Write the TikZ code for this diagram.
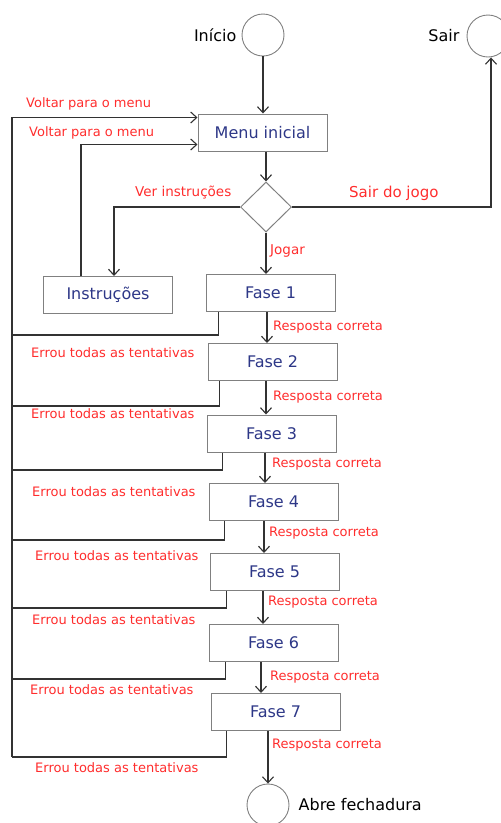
\documentclass[tikz,border=0pt]{standalone}
\usepackage{fontspec}
\setmainfont{DejaVu Sans}
\usepackage{tikz}
\usetikzlibrary{positioning,shapes.geometric,arrows.meta}

\definecolor{redtxt}{RGB}{255,45,45}
\definecolor{bluetxt}{RGB}{45,55,135}
\definecolor{edge}{RGB}{128,128,128}
\definecolor{wire}{RGB}{50,50,50}

\tikzset{
  fase/.style={rectangle, draw=edge, line width=1pt, minimum width=129pt, minimum height=37pt,
    text=bluetxt, font=\fontsize{16}{19}\selectfont},
  term/.style={circle, draw=edge, line width=0.9pt, minimum size=42pt, inner sep=0pt},
  decis/.style={diamond, draw=edge, line width=1pt, minimum width=51pt, minimum height=50pt, inner sep=0pt},
  rlab/.style={text=redtxt, inner sep=0pt, anchor=west, font=\fontsize{13}{15}\selectfont},
  blab/.style={inner sep=0pt, font=\fontsize{16}{19}\selectfont},
  wires/.style={draw=wire, line width=1.1pt}
}

\begin{document}
\begin{tikzpicture}[x=1pt, y=-1pt, >={Straight Barb[length=6pt,width=11pt]}]
  \useasboundingbox (0,0) rectangle (501,823);

  % start, exit and end
  \node [term] (ini) at (263,35) {};
  \node [blab, left=5pt of ini] (inilab) {Início};
  \node [term] (sair) at (488,36) {};
  \node [blab, left=7pt of sair] (sairlab) {Sair};
  \node [term] (fim) at (268,805) {};
  \node [blab, right=9pt of fim] (fimlab) {Abre fechadura};

  % menu
  \node [fase] (menu) at (262.5,132.5) {Menu inicial};
  \node [decis] (dia) at (266,207) {};
  \node [fase] (instr) at (108,295) {Instruções};

  % phases
  \node [fase] (f1) at (270.5,293) {Fase 1};
  \node [fase] (f2) at (272.5,362) {Fase 2};
  \node [fase] (f3) at (271.5,433.5) {Fase 3};
  \node [fase] (f4) at (273.5,502) {Fase 4};
  \node [fase] (f5) at (274.5,572) {Fase 5};
  \node [fase] (f6) at (273.5,643) {Fase 6};
  \node [fase] (f7) at (275.5,712) {Fase 7};

  % ends of the fail lines on the left
  \coordinate (e1) at (12,335);
  \coordinate (e2) at (12,406);
  \coordinate (e3) at (12,470);
  \coordinate (e4) at (12,540);
  \coordinate (e5) at (12,608);
  \coordinate (e6) at (12,679);
  \coordinate (e7) at (12,757);

  % labels
  \node [rlab] (volta1) at (26,104) {Voltar para o menu};
  \node [rlab] (volta2) at (29,133) {Voltar para o menu};
  \node [rlab, font=\fontsize{13.5}{16}\selectfont] (verlab) at (135,193) {Ver instruções};
  \node [rlab, font=\fontsize{15}{18}\selectfont] (saijogo) at (349,193) {Sair do jogo};
  \node [rlab, font=\fontsize{13.5}{16}\selectfont] (jogar) at (270,251) {Jogar};

  \node [rlab] (ok1) at (273,327) {Resposta correta};
  \node [rlab] (ok2) at (273,397) {Resposta correta};
  \node [rlab] (ok3) at (272,464) {Resposta correta};
  \node [rlab] (ok4) at (269,533) {Resposta correta};
  \node [rlab] (ok5) at (268,602) {Resposta correta};
  \node [rlab] (ok6) at (270,677) {Resposta correta};
  \node [rlab] (ok7) at (272,745) {Resposta correta};

  \node [rlab] (err1) at (31,353) {Errou todas as tentativas};
  \node [rlab] (err2) at (31,414) {Errou todas as tentativas};
  \node [rlab] (err3) at (32,492) {Errou todas as tentativas};
  \node [rlab] (err4) at (35,556) {Errou todas as tentativas};
  \node [rlab] (err5) at (32,620) {Errou todas as tentativas};
  \node [rlab] (err6) at (30,690) {Errou todas as tentativas};
  \node [rlab] (err7) at (35,768) {Errou todas as tentativas};

  % flow
  \draw [wires,->] (ini.south) -- (ini.south |- menu.north);
  \draw [wires,->] (dia.north |- menu.south) -- (dia.north);
  \draw [wires,->] (dia.west) -| ([xshift=6pt]instr.north);
  \draw [wires,->] (dia.east) -| ([xshift=3pt]sair.south);
  \draw [wires,->] (dia.south) -- (dia.south |- f1.north);
  \draw [wires,->] ([xshift=38pt]instr.north west) |- ([yshift=7pt]menu.south west);

  \draw [wires,->] ([xshift=-3.5pt]f1.south) -- ([xshift=-3.5pt]f1.south |- f2.north);
  \draw [wires,->] ([xshift=-6.5pt]f2.south) -- ([xshift=-6.5pt]f2.south |- f3.north);
  \draw [wires,->] ([xshift=-6.5pt]f3.south) -- ([xshift=-6.5pt]f3.south |- f4.north);
  \draw [wires,->] ([xshift=-9.5pt]f4.south) -- ([xshift=-9.5pt]f4.south |- f5.north);
  \draw [wires,->] ([xshift=-11.5pt]f5.south) -- ([xshift=-11.5pt]f5.south |- f6.north);
  \draw [wires,->] ([xshift=-12.5pt]f6.south) -- ([xshift=-12.5pt]f6.south |- f7.north);
  \draw [wires,->] (fim.north |- f7.south) -- (fim.north);

  % fail lines back to the menu
  \draw [wires] ([xshift=13pt]f1.south west) |- (e1);
  \draw [wires] ([xshift=12pt]f2.south west) |- (e2);
  \draw [wires] ([xshift=16pt]f3.south west) |- (e3);
  \draw [wires] ([xshift=16pt]f4.south west) |- (e4);
  \draw [wires] ([xshift=17pt]f5.south west) |- (e5);
  \draw [wires] ([xshift=17pt]f6.south west) |- (e6);
  \draw [wires] ([xshift=16pt]f7.south west) |- (e7);
  \draw [wires,->] (e7) |- ([yshift=-4pt]menu.north west);
\end{tikzpicture}
\end{document}
